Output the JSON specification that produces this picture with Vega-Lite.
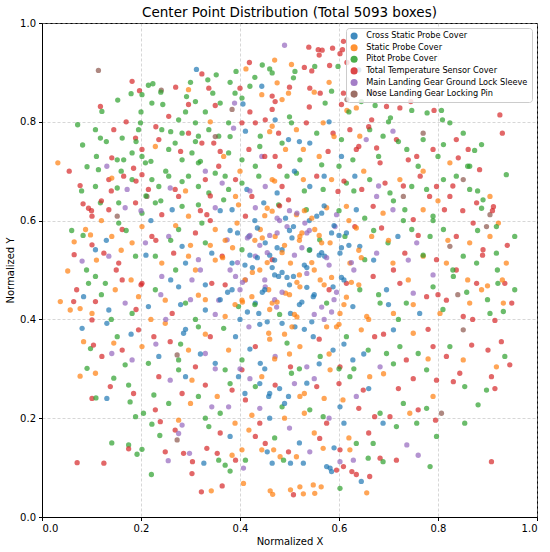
{
  "$schema": "https://vega.github.io/schema/vega-lite/v6.json",
  "width": 495,
  "height": 494,
  "autosize": {"type": "none"},
  "padding": {"left": 42, "top": 23, "right": 13, "bottom": 35},
  "title": {"text": "Center Point Distribution (Total 5093 boxes)", "font": "DejaVu Sans", "fontSize": 13.5, "fontWeight": "normal", "color": "black", "anchor": "middle", "offset": -1},
  "config": {"view": {"stroke": "black", "strokeWidth": 1}, "font": "DejaVu Sans"},
  "data": {"values": [
    {"x":0.114,"y":0.904,"c":"n"},{"x":0.312,"y":0.906,"c":"b"},{"x":0.392,"y":0.902,"c":"g"},{"x":0.419,"y":0.920,"c":"r"},{"x":0.412,"y":0.907,"c":"o"},{"x":0.460,"y":0.907,"c":"g"},{"x":0.490,"y":0.955,"c":"p"},{"x":0.504,"y":0.916,"c":"o"},{"x":0.511,"y":0.902,"c":"g"},{"x":0.539,"y":0.951,"c":"r"},{"x":0.558,"y":0.946,"c":"r"},{"x":0.566,"y":0.945,"c":"r"},{"x":0.587,"y":0.949,"c":"r"},{"x":0.607,"y":0.946,"c":"r"},{"x":0.602,"y":0.938,"c":"r"},{"x":0.560,"y":0.935,"c":"r"},{"x":0.551,"y":0.912,"c":"g"},{"x":0.581,"y":0.914,"c":"r"},{"x":0.598,"y":0.912,"c":"g"},{"x":0.609,"y":0.963,"c":"r"},{"x":0.616,"y":0.920,"c":"r"},{"x":0.545,"y":0.903,"c":"r"},{"x":0.640,"y":0.905,"c":"b"},{"x":0.470,"y":0.925,"c":"o"},{"x":0.445,"y":0.915,"c":"g"},
    {"x":0.118,"y":0.831,"c":"r"},{"x":0.121,"y":0.821,"c":"g"},{"x":0.182,"y":0.882,"c":"r"},{"x":0.180,"y":0.857,"c":"g"},{"x":0.197,"y":0.863,"c":"r"},{"x":0.215,"y":0.874,"c":"g"},{"x":0.224,"y":0.877,"c":"g"},{"x":0.241,"y":0.864,"c":"n"},{"x":0.153,"y":0.844,"c":"g"},{"x":0.323,"y":0.897,"c":"r"},{"x":0.352,"y":0.895,"c":"g"},{"x":0.475,"y":0.879,"c":"o"},{"x":0.202,"y":0.855,"c":"g"},{"x":0.244,"y":0.835,"c":"g"},{"x":0.222,"y":0.838,"c":"g"},{"x":0.292,"y":0.851,"c":"g"},{"x":0.296,"y":0.865,"c":"o"},{"x":0.296,"y":0.835,"c":"r"},{"x":0.310,"y":0.841,"c":"g"},{"x":0.337,"y":0.868,"c":"r"},{"x":0.335,"y":0.885,"c":"g"},{"x":0.345,"y":0.858,"c":"g"},{"x":0.350,"y":0.833,"c":"r"},{"x":0.360,"y":0.838,"c":"g"},{"x":0.390,"y":0.858,"c":"g"},{"x":0.400,"y":0.868,"c":"r"},{"x":0.389,"y":0.838,"c":"p"},{"x":0.404,"y":0.848,"c":"g"},{"x":0.444,"y":0.855,"c":"o"},{"x":0.444,"y":0.872,"c":"b"},{"x":0.465,"y":0.852,"c":"r"},{"x":0.471,"y":0.841,"c":"r"},{"x":0.406,"y":0.836,"c":"b"},{"x":0.420,"y":0.872,"c":"g"},{"x":0.465,"y":0.899,"c":"g"},{"x":0.465,"y":0.825,"c":"r"},{"x":0.485,"y":0.845,"c":"o"},{"x":0.498,"y":0.858,"c":"o"},{"x":0.508,"y":0.889,"c":"g"},{"x":0.541,"y":0.868,"c":"r"},{"x":0.572,"y":0.838,"c":"g"},{"x":0.562,"y":0.858,"c":"r"},{"x":0.585,"y":0.862,"c":"g"},{"x":0.609,"y":0.858,"c":"r"},{"x":0.605,"y":0.835,"c":"r"},{"x":0.635,"y":0.828,"c":"o"},{"x":0.645,"y":0.841,"c":"g"},{"x":0.616,"y":0.823,"c":"o"},{"x":0.616,"y":0.845,"c":"n"},{"x":0.673,"y":0.833,"c":"g"},{"x":0.696,"y":0.831,"c":"r"},{"x":0.723,"y":0.828,"c":"r"},{"x":0.704,"y":0.808,"c":"g"},{"x":0.745,"y":0.841,"c":"r"},{"x":0.747,"y":0.823,"c":"g"},{"x":0.792,"y":0.823,"c":"r"},{"x":0.778,"y":0.818,"c":"g"},{"x":0.807,"y":0.823,"c":"g"},{"x":0.809,"y":0.804,"c":"g"},{"x":0.925,"y":0.814,"c":"r"},{"x":0.930,"y":0.777,"c":"r"},{"x":0.824,"y":0.798,"c":"g"},{"x":0.666,"y":0.804,"c":"r"},{"x":0.256,"y":0.811,"c":"r"},
    {"x":0.072,"y":0.794,"c":"g"},{"x":0.108,"y":0.784,"c":"g"},{"x":0.082,"y":0.753,"c":"g"},{"x":0.032,"y":0.717,"c":"o"},{"x":0.055,"y":0.700,"c":"r"},{"x":0.118,"y":0.767,"c":"g"},{"x":0.145,"y":0.784,"c":"r"},{"x":0.162,"y":0.767,"c":"g"},{"x":0.199,"y":0.798,"c":"g"},{"x":0.189,"y":0.767,"c":"r"},{"x":0.195,"y":0.784,"c":"g"},{"x":0.202,"y":0.744,"c":"r"},{"x":0.182,"y":0.737,"c":"g"},{"x":0.236,"y":0.764,"c":"r"},{"x":0.242,"y":0.784,"c":"g"},{"x":0.276,"y":0.804,"c":"g"},{"x":0.283,"y":0.777,"c":"g"},{"x":0.296,"y":0.777,"c":"r"},{"x":0.310,"y":0.798,"c":"g"},{"x":0.316,"y":0.771,"c":"g"},{"x":0.323,"y":0.757,"c":"r"},{"x":0.337,"y":0.784,"c":"g"},{"x":0.347,"y":0.757,"c":"r"},{"x":0.357,"y":0.771,"c":"g"},{"x":0.377,"y":0.798,"c":"g"},{"x":0.384,"y":0.825,"c":"n"},{"x":0.387,"y":0.787,"c":"p"},{"x":0.404,"y":0.798,"c":"r"},{"x":0.411,"y":0.781,"c":"b"},{"x":0.431,"y":0.798,"c":"r"},{"x":0.441,"y":0.771,"c":"g"},{"x":0.451,"y":0.804,"c":"r"},{"x":0.465,"y":0.791,"c":"o"},{"x":0.471,"y":0.804,"c":"b"},{"x":0.478,"y":0.777,"c":"r"},{"x":0.485,"y":0.757,"c":"g"},{"x":0.256,"y":0.744,"c":"g"},{"x":0.269,"y":0.757,"c":"g"},{"x":0.229,"y":0.750,"c":"o"},{"x":0.209,"y":0.717,"c":"g"},{"x":0.152,"y":0.723,"c":"g"},{"x":0.141,"y":0.727,"c":"r"},{"x":0.114,"y":0.703,"c":"g"},{"x":0.131,"y":0.710,"c":"p"},{"x":0.091,"y":0.709,"c":"g"},{"x":0.165,"y":0.723,"c":"g"},{"x":0.185,"y":0.706,"c":"r"},{"x":0.202,"y":0.730,"c":"g"},{"x":0.283,"y":0.723,"c":"g"},{"x":0.303,"y":0.737,"c":"g"},{"x":0.316,"y":0.717,"c":"g"},{"x":0.357,"y":0.710,"c":"r"},{"x":0.377,"y":0.737,"c":"g"},{"x":0.367,"y":0.730,"c":"o"},{"x":0.404,"y":0.723,"c":"g"},{"x":0.418,"y":0.744,"c":"r"},{"x":0.431,"y":0.710,"c":"g"},{"x":0.444,"y":0.730,"c":"p"},{"x":0.471,"y":0.730,"c":"r"},{"x":0.492,"y":0.744,"c":"o"},{"x":0.498,"y":0.764,"c":"b"},
    {"x":0.504,"y":0.798,"c":"g"},{"x":0.514,"y":0.784,"c":"o"},{"x":0.534,"y":0.798,"c":"r"},{"x":0.555,"y":0.777,"c":"g"},{"x":0.541,"y":0.757,"c":"b"},{"x":0.568,"y":0.798,"c":"o"},{"x":0.588,"y":0.777,"c":"r"},{"x":0.605,"y":0.764,"c":"g"},{"x":0.622,"y":0.784,"c":"r"},{"x":0.642,"y":0.771,"c":"o"},{"x":0.662,"y":0.784,"c":"g"},{"x":0.655,"y":0.764,"c":"p"},{"x":0.676,"y":0.747,"c":"r"},{"x":0.689,"y":0.771,"c":"g"},{"x":0.716,"y":0.764,"c":"r"},{"x":0.709,"y":0.781,"c":"p"},{"x":0.737,"y":0.744,"c":"g"},{"x":0.757,"y":0.730,"c":"r"},{"x":0.770,"y":0.764,"c":"g"},{"x":0.790,"y":0.744,"c":"r"},{"x":0.800,"y":0.730,"c":"g"},{"x":0.811,"y":0.754,"c":"g"},{"x":0.837,"y":0.764,"c":"r"},{"x":0.851,"y":0.777,"c":"g"},{"x":0.861,"y":0.744,"c":"r"},{"x":0.884,"y":0.703,"c":"r"},{"x":0.888,"y":0.754,"c":"g"},{"x":0.874,"y":0.742,"c":"g"},{"x":0.841,"y":0.727,"c":"r"},{"x":0.864,"y":0.710,"c":"g"},{"x":0.824,"y":0.717,"c":"o"},{"x":0.770,"y":0.777,"c":"n"},{"x":0.740,"y":0.723,"c":"r"},{"x":0.760,"y":0.710,"c":"g"},{"x":0.578,"y":0.740,"c":"r"},{"x":0.628,"y":0.723,"c":"g"},{"x":0.605,"y":0.730,"c":"b"},{"x":0.635,"y":0.744,"c":"r"},{"x":0.521,"y":0.723,"c":"g"},{"x":0.528,"y":0.744,"c":"o"},{"x":0.565,"y":0.713,"c":"g"},{"x":0.683,"y":0.717,"c":"r"},
    {"x":0.077,"y":0.671,"c":"r"},{"x":0.083,"y":0.634,"c":"r"},{"x":0.094,"y":0.625,"c":"r"},{"x":0.108,"y":0.669,"c":"g"},{"x":0.135,"y":0.683,"c":"r"},{"x":0.152,"y":0.666,"c":"g"},{"x":0.165,"y":0.690,"c":"r"},{"x":0.182,"y":0.683,"c":"g"},{"x":0.202,"y":0.693,"c":"r"},{"x":0.222,"y":0.683,"c":"g"},{"x":0.215,"y":0.663,"c":"r"},{"x":0.236,"y":0.669,"c":"g"},{"x":0.256,"y":0.690,"c":"g"},{"x":0.269,"y":0.663,"c":"r"},{"x":0.283,"y":0.679,"c":"g"},{"x":0.276,"y":0.649,"c":"r"},{"x":0.296,"y":0.690,"c":"g"},{"x":0.259,"y":0.666,"c":"p"},{"x":0.316,"y":0.669,"c":"g"},{"x":0.330,"y":0.683,"c":"r"},{"x":0.337,"y":0.656,"c":"g"},{"x":0.350,"y":0.696,"c":"g"},{"x":0.364,"y":0.676,"c":"p"},{"x":0.377,"y":0.663,"c":"g"},{"x":0.391,"y":0.683,"c":"r"},{"x":0.391,"y":0.649,"c":"o"},{"x":0.404,"y":0.676,"c":"g"},{"x":0.414,"y":0.663,"c":"b"},{"x":0.424,"y":0.649,"c":"r"},{"x":0.438,"y":0.690,"c":"g"},{"x":0.451,"y":0.669,"c":"p"},{"x":0.465,"y":0.683,"c":"o"},{"x":0.475,"y":0.656,"c":"b"},{"x":0.485,"y":0.669,"c":"r"},{"x":0.495,"y":0.690,"c":"g"},{"x":0.101,"y":0.609,"c":"r"},{"x":0.118,"y":0.636,"c":"g"},{"x":0.135,"y":0.622,"c":"r"},{"x":0.155,"y":0.636,"c":"g"},{"x":0.168,"y":0.626,"c":"p"},{"x":0.189,"y":0.636,"c":"r"},{"x":0.202,"y":0.615,"c":"g"},{"x":0.212,"y":0.649,"c":"n"},{"x":0.229,"y":0.636,"c":"g"},{"x":0.242,"y":0.612,"c":"r"},{"x":0.263,"y":0.622,"c":"b"},{"x":0.283,"y":0.629,"c":"g"},{"x":0.296,"y":0.609,"c":"o"},{"x":0.316,"y":0.632,"c":"g"},{"x":0.333,"y":0.612,"c":"r"},{"x":0.350,"y":0.626,"c":"p"},{"x":0.367,"y":0.642,"c":"g"},{"x":0.384,"y":0.622,"c":"b"},{"x":0.397,"y":0.632,"c":"o"},{"x":0.411,"y":0.609,"c":"r"},{"x":0.431,"y":0.626,"c":"p"},{"x":0.448,"y":0.636,"c":"b"},{"x":0.465,"y":0.619,"c":"o"},{"x":0.478,"y":0.632,"c":"g"},{"x":0.492,"y":0.605,"c":"b"},{"x":0.498,"y":0.642,"c":"r"},{"x":0.152,"y":0.609,"c":"n"},{"x":0.172,"y":0.663,"c":"p"},{"x":0.141,"y":0.686,"c":"o"},
    {"x":0.514,"y":0.696,"c":"g"},{"x":0.528,"y":0.683,"c":"o"},{"x":0.541,"y":0.669,"c":"b"},{"x":0.555,"y":0.690,"c":"r"},{"x":0.568,"y":0.663,"c":"g"},{"x":0.585,"y":0.683,"c":"o"},{"x":0.598,"y":0.659,"c":"r"},{"x":0.615,"y":0.676,"c":"g"},{"x":0.632,"y":0.690,"c":"b"},{"x":0.646,"y":0.663,"c":"r"},{"x":0.662,"y":0.683,"c":"g"},{"x":0.676,"y":0.649,"c":"p"},{"x":0.693,"y":0.676,"c":"r"},{"x":0.703,"y":0.656,"c":"g"},{"x":0.723,"y":0.683,"c":"o"},{"x":0.730,"y":0.649,"c":"n"},{"x":0.747,"y":0.669,"c":"g"},{"x":0.764,"y":0.690,"c":"r"},{"x":0.777,"y":0.663,"c":"g"},{"x":0.797,"y":0.669,"c":"r"},{"x":0.811,"y":0.683,"c":"g"},{"x":0.824,"y":0.649,"c":"r"},{"x":0.837,"y":0.690,"c":"g"},{"x":0.851,"y":0.683,"c":"n"},{"x":0.864,"y":0.663,"c":"g"},{"x":0.878,"y":0.636,"c":"r"},{"x":0.891,"y":0.642,"c":"g"},{"x":0.905,"y":0.649,"c":"o"},{"x":0.938,"y":0.693,"c":"g"},{"x":0.912,"y":0.628,"c":"r"},{"x":0.922,"y":0.595,"c":"o"},{"x":0.905,"y":0.612,"c":"n"},{"x":0.888,"y":0.625,"c":"g"},{"x":0.813,"y":0.622,"c":"r"},{"x":0.790,"y":0.609,"c":"g"},{"x":0.770,"y":0.622,"c":"o"},{"x":0.750,"y":0.602,"c":"r"},{"x":0.733,"y":0.622,"c":"g"},{"x":0.709,"y":0.622,"c":"p"},{"x":0.689,"y":0.615,"c":"o"},{"x":0.669,"y":0.629,"c":"r"},{"x":0.652,"y":0.605,"c":"g"},{"x":0.635,"y":0.622,"c":"b"},{"x":0.615,"y":0.629,"c":"o"},{"x":0.595,"y":0.612,"c":"p"},{"x":0.575,"y":0.626,"c":"o"},{"x":0.555,"y":0.609,"c":"b"},{"x":0.534,"y":0.622,"c":"g"},{"x":0.514,"y":0.612,"c":"o"},{"x":0.783,"y":0.649,"c":"r"},
    {"x":0.083,"y":0.570,"c":"g"},{"x":0.065,"y":0.557,"c":"o"},{"x":0.065,"y":0.531,"c":"r"},{"x":0.052,"y":0.498,"c":"o"},{"x":0.088,"y":0.582,"c":"o"},{"x":0.098,"y":0.571,"c":"o"},{"x":0.101,"y":0.551,"c":"r"},{"x":0.081,"y":0.518,"c":"p"},{"x":0.125,"y":0.534,"c":"r"},{"x":0.135,"y":0.528,"c":"p"},{"x":0.141,"y":0.568,"c":"o"},{"x":0.155,"y":0.595,"c":"g"},{"x":0.162,"y":0.582,"c":"r"},{"x":0.182,"y":0.555,"c":"o"},{"x":0.189,"y":0.528,"c":"g"},{"x":0.202,"y":0.588,"c":"o"},{"x":0.209,"y":0.555,"c":"p"},{"x":0.222,"y":0.568,"c":"r"},{"x":0.229,"y":0.528,"c":"g"},{"x":0.242,"y":0.514,"c":"o"},{"x":0.256,"y":0.568,"c":"p"},{"x":0.266,"y":0.534,"c":"r"},{"x":0.276,"y":0.582,"c":"g"},{"x":0.283,"y":0.548,"c":"b"},{"x":0.296,"y":0.528,"c":"o"},{"x":0.310,"y":0.575,"c":"r"},{"x":0.316,"y":0.521,"c":"p"},{"x":0.330,"y":0.555,"c":"g"},{"x":0.343,"y":0.534,"c":"b"},{"x":0.350,"y":0.582,"c":"o"},{"x":0.364,"y":0.528,"c":"r"},{"x":0.374,"y":0.561,"c":"p"},{"x":0.384,"y":0.514,"c":"b"},{"x":0.394,"y":0.595,"c":"o"},{"x":0.404,"y":0.541,"c":"g"},{"x":0.418,"y":0.568,"c":"b"},{"x":0.431,"y":0.528,"c":"p"},{"x":0.441,"y":0.582,"c":"o"},{"x":0.451,"y":0.555,"c":"b"},{"x":0.465,"y":0.521,"c":"r"},{"x":0.471,"y":0.568,"c":"o"},{"x":0.485,"y":0.541,"c":"b"},{"x":0.495,"y":0.588,"c":"p"},{"x":0.502,"y":0.514,"c":"o"},{"x":0.323,"y":0.595,"c":"g"},{"x":0.108,"y":0.541,"c":"b"},{"x":0.290,"y":0.514,"c":"b"},{"x":0.155,"y":0.514,"c":"r"},
    {"x":0.508,"y":0.588,"c":"b"},{"x":0.521,"y":0.568,"c":"o"},{"x":0.531,"y":0.595,"c":"p"},{"x":0.541,"y":0.541,"c":"b"},{"x":0.551,"y":0.582,"c":"o"},{"x":0.561,"y":0.561,"c":"g"},{"x":0.571,"y":0.528,"c":"b"},{"x":0.582,"y":0.555,"c":"o"},{"x":0.592,"y":0.588,"c":"p"},{"x":0.602,"y":0.534,"c":"b"},{"x":0.612,"y":0.568,"c":"g"},{"x":0.622,"y":0.514,"c":"o"},{"x":0.632,"y":0.588,"c":"r"},{"x":0.642,"y":0.548,"c":"b"},{"x":0.652,"y":0.521,"c":"g"},{"x":0.666,"y":0.568,"c":"o"},{"x":0.676,"y":0.534,"c":"p"},{"x":0.686,"y":0.585,"c":"r"},{"x":0.699,"y":0.555,"c":"g"},{"x":0.709,"y":0.514,"c":"o"},{"x":0.719,"y":0.568,"c":"b"},{"x":0.733,"y":0.534,"c":"r"},{"x":0.747,"y":0.582,"c":"g"},{"x":0.757,"y":0.555,"c":"p"},{"x":0.770,"y":0.528,"c":"o"},{"x":0.784,"y":0.568,"c":"g"},{"x":0.797,"y":0.521,"c":"r"},{"x":0.811,"y":0.582,"c":"g"},{"x":0.824,"y":0.548,"c":"n"},{"x":0.837,"y":0.568,"c":"r"},{"x":0.851,"y":0.528,"c":"g"},{"x":0.864,"y":0.555,"c":"o"},{"x":0.878,"y":0.514,"c":"g"},{"x":0.891,"y":0.541,"c":"r"},{"x":0.905,"y":0.568,"c":"o"},{"x":0.918,"y":0.534,"c":"g"},{"x":0.938,"y":0.514,"c":"o"},{"x":0.955,"y":0.568,"c":"g"},{"x":0.898,"y":0.588,"c":"n"},{"x":0.871,"y":0.595,"c":"r"},{"x":0.817,"y":0.514,"c":"o"},{"x":0.918,"y":0.588,"c":"g"},{"x":0.837,"y":0.500,"c":"r"},
    {"x":0.037,"y":0.436,"c":"o"},{"x":0.064,"y":0.436,"c":"r"},{"x":0.057,"y":0.419,"c":"o"},{"x":0.094,"y":0.473,"c":"g"},{"x":0.084,"y":0.446,"c":"b"},{"x":0.108,"y":0.436,"c":"r"},{"x":0.101,"y":0.412,"c":"o"},{"x":0.128,"y":0.473,"c":"g"},{"x":0.135,"y":0.419,"c":"b"},{"x":0.148,"y":0.460,"c":"o"},{"x":0.162,"y":0.480,"c":"r"},{"x":0.168,"y":0.433,"c":"p"},{"x":0.182,"y":0.412,"c":"g"},{"x":0.195,"y":0.446,"c":"o"},{"x":0.202,"y":0.473,"c":"r"},{"x":0.215,"y":0.426,"c":"b"},{"x":0.229,"y":0.460,"c":"g"},{"x":0.242,"y":0.487,"c":"p"},{"x":0.249,"y":0.439,"c":"o"},{"x":0.263,"y":0.412,"c":"r"},{"x":0.276,"y":0.466,"c":"b"},{"x":0.290,"y":0.433,"c":"g"},{"x":0.303,"y":0.480,"c":"p"},{"x":0.316,"y":0.449,"c":"o"},{"x":0.330,"y":0.419,"c":"b"},{"x":0.343,"y":0.473,"c":"r"},{"x":0.357,"y":0.439,"c":"p"},{"x":0.370,"y":0.406,"c":"o"},{"x":0.384,"y":0.460,"c":"b"},{"x":0.397,"y":0.426,"c":"g"},{"x":0.411,"y":0.480,"c":"p"},{"x":0.424,"y":0.446,"c":"o"},{"x":0.438,"y":0.412,"c":"b"},{"x":0.451,"y":0.466,"c":"p"},{"x":0.465,"y":0.433,"c":"o"},{"x":0.478,"y":0.487,"c":"b"},{"x":0.492,"y":0.453,"c":"o"},{"x":0.502,"y":0.412,"c":"b"},{"x":0.077,"y":0.422,"c":"o"},{"x":0.108,"y":0.487,"c":"g"},{"x":0.391,"y":0.487,"c":"p"},{"x":0.404,"y":0.439,"c":"o"},{"x":0.458,"y":0.460,"c":"o"},{"x":0.474,"y":0.425,"c":"p"},{"x":0.431,"y":0.433,"c":"b"},
    {"x":0.508,"y":0.487,"c":"b"},{"x":0.521,"y":0.466,"c":"o"},{"x":0.535,"y":0.493,"c":"p"},{"x":0.548,"y":0.446,"c":"b"},{"x":0.562,"y":0.480,"c":"o"},{"x":0.575,"y":0.433,"c":"g"},{"x":0.588,"y":0.466,"c":"b"},{"x":0.602,"y":0.412,"c":"o"},{"x":0.615,"y":0.473,"c":"r"},{"x":0.628,"y":0.426,"c":"b"},{"x":0.642,"y":0.460,"c":"g"},{"x":0.656,"y":0.406,"c":"o"},{"x":0.669,"y":0.487,"c":"r"},{"x":0.683,"y":0.433,"c":"g"},{"x":0.696,"y":0.460,"c":"b"},{"x":0.710,"y":0.412,"c":"o"},{"x":0.723,"y":0.473,"c":"r"},{"x":0.736,"y":0.433,"c":"g"},{"x":0.750,"y":0.453,"c":"p"},{"x":0.763,"y":0.412,"c":"b"},{"x":0.777,"y":0.446,"c":"r"},{"x":0.790,"y":0.466,"c":"g"},{"x":0.804,"y":0.412,"c":"o"},{"x":0.817,"y":0.439,"c":"r"},{"x":0.831,"y":0.487,"c":"g"},{"x":0.851,"y":0.406,"c":"r"},{"x":0.864,"y":0.433,"c":"o"},{"x":0.858,"y":0.455,"c":"g"},{"x":0.878,"y":0.473,"c":"r"},{"x":0.888,"y":0.460,"c":"o"},{"x":0.905,"y":0.412,"c":"g"},{"x":0.915,"y":0.398,"c":"r"},{"x":0.921,"y":0.473,"c":"g"},{"x":0.935,"y":0.473,"c":"r"},{"x":0.955,"y":0.460,"c":"g"},{"x":0.932,"y":0.433,"c":"o"},{"x":0.949,"y":0.433,"c":"r"},{"x":0.900,"y":0.468,"c":"o"},{"x":0.932,"y":0.416,"c":"g"},{"x":0.851,"y":0.379,"c":"n"},
    {"x":0.081,"y":0.382,"c":"b"},{"x":0.084,"y":0.355,"c":"o"},{"x":0.098,"y":0.341,"c":"g"},{"x":0.104,"y":0.348,"c":"r"},{"x":0.091,"y":0.301,"c":"g"},{"x":0.108,"y":0.291,"c":"o"},{"x":0.121,"y":0.325,"c":"r"},{"x":0.131,"y":0.392,"c":"b"},{"x":0.145,"y":0.352,"c":"o"},{"x":0.152,"y":0.365,"c":"g"},{"x":0.162,"y":0.338,"c":"r"},{"x":0.168,"y":0.308,"c":"g"},{"x":0.182,"y":0.318,"c":"p"},{"x":0.195,"y":0.379,"c":"r"},{"x":0.202,"y":0.345,"c":"o"},{"x":0.215,"y":0.311,"c":"g"},{"x":0.226,"y":0.365,"c":"r"},{"x":0.236,"y":0.325,"c":"b"},{"x":0.249,"y":0.392,"c":"o"},{"x":0.259,"y":0.355,"c":"r"},{"x":0.276,"y":0.318,"c":"g"},{"x":0.286,"y":0.372,"c":"b"},{"x":0.296,"y":0.338,"c":"o"},{"x":0.310,"y":0.304,"c":"r"},{"x":0.316,"y":0.385,"c":"g"},{"x":0.330,"y":0.331,"c":"p"},{"x":0.340,"y":0.365,"c":"r"},{"x":0.350,"y":0.311,"c":"b"},{"x":0.367,"y":0.382,"c":"g"},{"x":0.377,"y":0.338,"c":"o"},{"x":0.391,"y":0.365,"c":"b"},{"x":0.404,"y":0.318,"c":"g"},{"x":0.418,"y":0.385,"c":"p"},{"x":0.431,"y":0.345,"c":"r"},{"x":0.441,"y":0.311,"c":"b"},{"x":0.458,"y":0.372,"c":"o"},{"x":0.471,"y":0.325,"c":"p"},{"x":0.485,"y":0.392,"c":"b"},{"x":0.495,"y":0.352,"c":"g"},{"x":0.502,"y":0.304,"c":"r"},{"x":0.273,"y":0.328,"c":"n"},{"x":0.141,"y":0.331,"c":"p"},{"x":0.101,"y":0.399,"c":"r"},
    {"x":0.511,"y":0.385,"c":"b"},{"x":0.521,"y":0.345,"c":"o"},{"x":0.535,"y":0.304,"c":"p"},{"x":0.548,"y":0.365,"c":"b"},{"x":0.562,"y":0.325,"c":"g"},{"x":0.575,"y":0.385,"c":"o"},{"x":0.588,"y":0.338,"c":"b"},{"x":0.602,"y":0.304,"c":"r"},{"x":0.615,"y":0.365,"c":"g"},{"x":0.628,"y":0.318,"c":"b"},{"x":0.645,"y":0.379,"c":"o"},{"x":0.659,"y":0.338,"c":"g"},{"x":0.672,"y":0.365,"c":"r"},{"x":0.683,"y":0.304,"c":"p"},{"x":0.696,"y":0.331,"c":"g"},{"x":0.710,"y":0.379,"c":"b"},{"x":0.723,"y":0.345,"c":"g"},{"x":0.736,"y":0.318,"c":"r"},{"x":0.750,"y":0.372,"c":"o"},{"x":0.760,"y":0.331,"c":"g"},{"x":0.777,"y":0.298,"c":"g"},{"x":0.790,"y":0.345,"c":"r"},{"x":0.824,"y":0.345,"c":"g"},{"x":0.817,"y":0.325,"c":"r"},{"x":0.851,"y":0.318,"c":"o"},{"x":0.868,"y":0.348,"c":"r"},{"x":0.901,"y":0.338,"c":"r"},{"x":0.935,"y":0.325,"c":"g"},{"x":0.945,"y":0.308,"c":"r"},{"x":0.918,"y":0.304,"c":"o"},{"x":0.928,"y":0.355,"c":"r"},
    {"x":0.077,"y":0.285,"c":"o"},{"x":0.145,"y":0.281,"c":"g"},{"x":0.138,"y":0.264,"c":"r"},{"x":0.175,"y":0.267,"c":"g"},{"x":0.185,"y":0.250,"c":"r"},{"x":0.226,"y":0.247,"c":"g"},{"x":0.131,"y":0.240,"c":"b"},{"x":0.101,"y":0.240,"c":"r"},{"x":0.109,"y":0.241,"c":"g"},{"x":0.178,"y":0.233,"c":"g"},{"x":0.236,"y":0.284,"c":"r"},{"x":0.259,"y":0.277,"c":"p"},{"x":0.276,"y":0.298,"c":"g"},{"x":0.290,"y":0.284,"c":"b"},{"x":0.283,"y":0.250,"c":"r"},{"x":0.303,"y":0.277,"c":"o"},{"x":0.316,"y":0.244,"c":"g"},{"x":0.330,"y":0.267,"c":"r"},{"x":0.343,"y":0.223,"c":"p"},{"x":0.354,"y":0.244,"c":"o"},{"x":0.370,"y":0.298,"c":"g"},{"x":0.384,"y":0.257,"c":"r"},{"x":0.397,"y":0.284,"c":"b"},{"x":0.377,"y":0.223,"c":"p"},{"x":0.411,"y":0.237,"c":"r"},{"x":0.431,"y":0.264,"c":"g"},{"x":0.444,"y":0.284,"c":"o"},{"x":0.458,"y":0.244,"c":"b"},{"x":0.471,"y":0.267,"c":"r"},{"x":0.485,"y":0.223,"c":"g"},{"x":0.498,"y":0.244,"c":"b"},{"x":0.424,"y":0.206,"c":"o"},{"x":0.404,"y":0.298,"c":"r"},{"x":0.256,"y":0.230,"c":"g"},{"x":0.229,"y":0.217,"c":"r"},{"x":0.276,"y":0.196,"c":"o"},{"x":0.283,"y":0.186,"c":"p"},{"x":0.269,"y":0.176,"c":"r"},{"x":0.276,"y":0.169,"c":"p"},{"x":0.189,"y":0.203,"c":"g"},{"x":0.205,"y":0.210,"c":"g"},
    {"x":0.504,"y":0.291,"c":"g"},{"x":0.521,"y":0.244,"c":"o"},{"x":0.535,"y":0.271,"c":"b"},{"x":0.541,"y":0.217,"c":"g"},{"x":0.555,"y":0.264,"c":"r"},{"x":0.568,"y":0.203,"c":"g"},{"x":0.582,"y":0.298,"c":"o"},{"x":0.575,"y":0.190,"c":"r"},{"x":0.602,"y":0.223,"c":"b"},{"x":0.608,"y":0.237,"c":"o"},{"x":0.622,"y":0.284,"c":"g"},{"x":0.635,"y":0.244,"c":"p"},{"x":0.649,"y":0.257,"c":"r"},{"x":0.662,"y":0.284,"c":"o"},{"x":0.672,"y":0.203,"c":"r"},{"x":0.683,"y":0.210,"c":"g"},{"x":0.703,"y":0.203,"c":"r"},{"x":0.689,"y":0.190,"c":"b"},{"x":0.716,"y":0.183,"c":"g"},{"x":0.743,"y":0.210,"c":"o"},{"x":0.760,"y":0.217,"c":"r"},{"x":0.757,"y":0.190,"c":"g"},{"x":0.730,"y":0.230,"c":"g"},{"x":0.777,"y":0.220,"c":"g"},{"x":0.790,"y":0.244,"c":"o"},{"x":0.807,"y":0.210,"c":"n"},{"x":0.795,"y":0.196,"c":"r"},{"x":0.854,"y":0.190,"c":"g"},{"x":0.797,"y":0.277,"c":"r"},{"x":0.831,"y":0.274,"c":"r"},{"x":0.854,"y":0.264,"c":"g"},{"x":0.844,"y":0.291,"c":"r"},{"x":0.881,"y":0.227,"c":"g"},{"x":0.908,"y":0.284,"c":"r"},{"x":0.915,"y":0.260,"c":"r"},{"x":0.898,"y":0.257,"c":"g"},
    {"x":0.141,"y":0.150,"c":"g"},{"x":0.175,"y":0.146,"c":"g"},{"x":0.175,"y":0.138,"c":"r"},{"x":0.192,"y":0.127,"c":"g"},{"x":0.202,"y":0.137,"c":"g"},{"x":0.222,"y":0.188,"c":"g"},{"x":0.239,"y":0.193,"c":"r"},{"x":0.238,"y":0.165,"c":"g"},{"x":0.249,"y":0.132,"c":"r"},{"x":0.255,"y":0.114,"c":"p"},{"x":0.071,"y":0.110,"c":"r"},{"x":0.125,"y":0.109,"c":"r"},{"x":0.221,"y":0.086,"c":"g"},{"x":0.273,"y":0.156,"c":"n"},{"x":0.286,"y":0.129,"c":"r"},{"x":0.298,"y":0.129,"c":"p"},{"x":0.304,"y":0.112,"c":"r"},{"x":0.303,"y":0.088,"c":"r"},{"x":0.327,"y":0.109,"c":"b"},{"x":0.337,"y":0.183,"c":"g"},{"x":0.333,"y":0.139,"c":"r"},{"x":0.354,"y":0.129,"c":"r"},{"x":0.357,"y":0.115,"c":"g"},{"x":0.370,"y":0.105,"c":"g"},{"x":0.384,"y":0.125,"c":"o"},{"x":0.391,"y":0.115,"c":"r"},{"x":0.380,"y":0.163,"c":"b"},{"x":0.404,"y":0.136,"c":"o"},{"x":0.407,"y":0.099,"c":"p"},{"x":0.411,"y":0.115,"c":"g"},{"x":0.380,"y":0.093,"c":"g"},{"x":0.418,"y":0.176,"c":"o"},{"x":0.431,"y":0.163,"c":"r"},{"x":0.444,"y":0.136,"c":"o"},{"x":0.455,"y":0.132,"c":"b"},{"x":0.451,"y":0.149,"c":"r"},{"x":0.468,"y":0.136,"c":"o"},{"x":0.465,"y":0.109,"c":"b"},{"x":0.481,"y":0.122,"c":"o"},{"x":0.498,"y":0.132,"c":"r"},{"x":0.488,"y":0.115,"c":"g"},{"x":0.502,"y":0.109,"c":"b"},
    {"x":0.575,"y":0.102,"c":"b"},{"x":0.582,"y":0.099,"c":"b"},{"x":0.585,"y":0.092,"c":"b"},{"x":0.595,"y":0.095,"c":"r"},{"x":0.609,"y":0.102,"c":"r"},{"x":0.602,"y":0.112,"c":"p"},{"x":0.602,"y":0.058,"c":"g"},{"x":0.626,"y":0.092,"c":"r"},{"x":0.635,"y":0.086,"c":"r"},{"x":0.645,"y":0.072,"c":"b"},{"x":0.662,"y":0.082,"c":"r"},{"x":0.683,"y":0.119,"c":"r"},{"x":0.689,"y":0.112,"c":"g"},{"x":0.716,"y":0.115,"c":"r"},{"x":0.760,"y":0.125,"c":"p"},{"x":0.784,"y":0.102,"c":"g"},{"x":0.908,"y":0.112,"c":"r"},{"x":0.737,"y":0.146,"c":"p"},{"x":0.635,"y":0.149,"c":"g"},{"x":0.622,"y":0.136,"c":"o"},{"x":0.629,"y":0.115,"c":"p"},{"x":0.659,"y":0.119,"c":"g"},{"x":0.561,"y":0.159,"c":"r"},{"x":0.568,"y":0.139,"c":"o"},{"x":0.528,"y":0.109,"c":"b"},{"x":0.514,"y":0.122,"c":"o"},{"x":0.541,"y":0.132,"c":"p"},{"x":0.602,"y":0.136,"c":"r"},{"x":0.797,"y":0.163,"c":"g"},{"x":0.669,"y":0.149,"c":"g"},
    {"x":0.407,"y":0.068,"c":"o"},{"x":0.322,"y":0.051,"c":"r"},{"x":0.342,"y":0.053,"c":"o"},{"x":0.364,"y":0.063,"c":"r"},{"x":0.461,"y":0.053,"c":"o"},{"x":0.466,"y":0.046,"c":"o"},{"x":0.502,"y":0.055,"c":"o"},{"x":0.521,"y":0.061,"c":"o"},{"x":0.528,"y":0.047,"c":"o"},{"x":0.548,"y":0.065,"c":"o"},{"x":0.551,"y":0.048,"c":"o"},{"x":0.564,"y":0.061,"c":"o"},{"x":0.656,"y":0.049,"c":"o"},{"x":0.508,"y":0.045,"c":"r"},
    {"x":0.47,"y":0.52,"c":"b"},{"x":0.52,"y":0.49,"c":"o"},{"x":0.44,"y":0.55,"c":"p"},{"x":0.55,"y":0.45,"c":"b"},{"x":0.41,"y":0.48,"c":"o"},{"x":0.58,"y":0.51,"c":"p"},{"x":0.50,"y":0.58,"c":"b"},{"x":0.46,"y":0.42,"c":"o"},{"x":0.62,"y":0.55,"c":"b"},{"x":0.38,"y":0.50,"c":"p"},{"x":0.53,"y":0.62,"c":"o"},{"x":0.43,"y":0.60,"c":"b"},{"x":0.57,"y":0.40,"c":"p"},{"x":0.49,"y":0.37,"c":"o"},{"x":0.36,"y":0.44,"c":"b"},{"x":0.60,"y":0.62,"c":"g"},{"x":0.64,"y":0.47,"c":"o"},{"x":0.45,"y":0.46,"c":"b"},{"x":0.51,"y":0.53,"c":"p"},{"x":0.56,"y":0.57,"c":"o"},{"x":0.40,"y":0.40,"c":"b"},{"x":0.48,"y":0.63,"c":"r"},{"x":0.61,"y":0.43,"c":"o"},{"x":0.53,"y":0.38,"c":"b"},{"x":0.42,"y":0.57,"c":"p"},{"x":0.37,"y":0.56,"c":"o"},{"x":0.59,"y":0.59,"c":"b"},{"x":0.47,"y":0.44,"c":"p"},{"x":0.54,"y":0.54,"c":"g"},{"x":0.44,"y":0.50,"c":"o"},{"x":0.50,"y":0.47,"c":"b"},{"x":0.63,"y":0.50,"c":"p"},{"x":0.39,"y":0.43,"c":"o"},{"x":0.57,"y":0.63,"c":"b"},{"x":0.48,"y":0.60,"c":"p"},{"x":0.60,"y":0.39,"c":"o"},{"x":0.42,"y":0.53,"c":"b"},{"x":0.55,"y":0.50,"c":"o"},{"x":0.46,"y":0.57,"c":"p"},{"x":0.52,"y":0.43,"c":"b"},{"x":0.35,"y":0.52,"c":"o"},{"x":0.61,"y":0.48,"c":"b"},{"x":0.54,"y":0.58,"c":"p"},{"x":0.49,"y":0.55,"c":"o"},{"x":0.44,"y":0.39,"c":"b"},{"x":0.58,"y":0.46,"c":"r"},{"x":0.51,"y":0.41,"c":"o"},{"x":0.47,"y":0.49,"c":"b"},{"x":0.40,"y":0.46,"c":"p"},{"x":0.62,"y":0.60,"c":"o"},{"x":0.56,"y":0.53,"c":"b"},{"x":0.43,"y":0.43,"c":"g"},{"x":0.52,"y":0.56,"c":"o"},{"x":0.38,"y":0.58,"c":"b"},{"x":0.59,"y":0.44,"c":"p"},{"x":0.45,"y":0.61,"c":"o"},{"x":0.53,"y":0.51,"c":"b"},{"x":0.50,"y":0.62,"c":"p"},{"x":0.57,"y":0.47,"c":"o"},{"x":0.41,"y":0.51,"c":"b"},{"x":0.48,"y":0.41,"c":"g"},{"x":0.64,"y":0.54,"c":"o"},{"x":0.46,"y":0.53,"c":"b"},{"x":0.55,"y":0.41,"c":"p"},{"x":0.43,"y":0.56,"c":"o"},{"x":0.60,"y":0.57,"c":"b"},{"x":0.37,"y":0.47,"c":"r"},{"x":0.50,"y":0.45,"c":"o"},{"x":0.54,"y":0.60,"c":"b"},{"x":0.45,"y":0.48,"c":"p"},
    {"x":0.33,"y":0.47,"c":"b"},{"x":0.31,"y":0.50,"c":"o"},{"x":0.35,"y":0.41,"c":"p"},{"x":0.28,"y":0.43,"c":"b"},{"x":0.34,"y":0.55,"c":"o"},{"x":0.30,"y":0.44,"c":"p"},{"x":0.45,"y":0.30,"c":"b"},{"x":0.50,"y":0.33,"c":"o"},{"x":0.55,"y":0.28,"c":"p"},{"x":0.48,"y":0.26,"c":"b"},{"x":0.58,"y":0.33,"c":"o"},{"x":0.52,"y":0.30,"c":"g"},{"x":0.42,"y":0.34,"c":"b"},{"x":0.56,"y":0.36,"c":"r"},{"x":0.46,"y":0.36,"c":"o"},{"x":0.61,"y":0.35,"c":"b"},{"x":0.40,"y":0.30,"c":"p"},{"x":0.53,"y":0.25,"c":"o"},{"x":0.44,"y":0.27,"c":"b"},{"x":0.60,"y":0.30,"c":"g"},
    {"x":0.465,"y":0.505,"c":"b"},{"x":0.515,"y":0.475,"c":"o"},{"x":0.455,"y":0.535,"c":"p"},{"x":0.535,"y":0.465,"c":"b"},{"x":0.425,"y":0.495,"c":"o"},{"x":0.575,"y":0.525,"c":"p"},{"x":0.505,"y":0.565,"c":"b"},{"x":0.475,"y":0.435,"c":"o"},{"x":0.605,"y":0.545,"c":"b"},{"x":0.395,"y":0.515,"c":"p"},{"x":0.545,"y":0.605,"c":"o"},{"x":0.435,"y":0.585,"c":"b"},{"x":0.585,"y":0.415,"c":"p"},{"x":0.505,"y":0.385,"c":"o"},{"x":0.375,"y":0.455,"c":"b"},{"x":0.625,"y":0.475,"c":"o"},{"x":0.445,"y":0.455,"c":"b"},{"x":0.525,"y":0.545,"c":"p"},{"x":0.565,"y":0.555,"c":"o"},{"x":0.415,"y":0.415,"c":"b"},{"x":0.615,"y":0.445,"c":"o"},{"x":0.545,"y":0.395,"c":"b"},{"x":0.415,"y":0.565,"c":"p"},{"x":0.385,"y":0.545,"c":"o"},{"x":0.585,"y":0.575,"c":"b"},{"x":0.485,"y":0.455,"c":"p"},{"x":0.455,"y":0.515,"c":"o"},{"x":0.495,"y":0.485,"c":"b"},{"x":0.625,"y":0.515,"c":"p"},{"x":0.405,"y":0.435,"c":"o"},{"x":0.565,"y":0.615,"c":"b"},{"x":0.475,"y":0.605,"c":"p"},{"x":0.595,"y":0.385,"c":"o"},{"x":0.435,"y":0.525,"c":"b"},{"x":0.545,"y":0.515,"c":"o"},{"x":0.475,"y":0.575,"c":"p"},{"x":0.525,"y":0.435,"c":"b"},{"x":0.365,"y":0.525,"c":"o"},{"x":0.605,"y":0.485,"c":"b"},{"x":0.535,"y":0.575,"c":"p"},{"x":0.485,"y":0.535,"c":"o"},{"x":0.455,"y":0.395,"c":"b"},{"x":0.515,"y":0.405,"c":"o"},{"x":0.485,"y":0.495,"c":"b"},{"x":0.405,"y":0.475,"c":"p"},{"x":0.635,"y":0.585,"c":"o"},{"x":0.565,"y":0.535,"c":"b"},{"x":0.525,"y":0.575,"c":"o"},{"x":0.395,"y":0.575,"c":"b"},{"x":0.595,"y":0.455,"c":"p"},{"x":0.455,"y":0.625,"c":"o"},{"x":0.535,"y":0.505,"c":"b"},{"x":0.515,"y":0.615,"c":"p"},{"x":0.585,"y":0.485,"c":"o"},{"x":0.425,"y":0.505,"c":"b"},{"x":0.645,"y":0.525,"c":"o"},{"x":0.475,"y":0.545,"c":"b"},{"x":0.565,"y":0.425,"c":"p"},{"x":0.445,"y":0.565,"c":"o"},{"x":0.615,"y":0.575,"c":"b"},
    {"x":0.32,"y":0.72,"c":"g"},{"x":0.36,"y":0.74,"c":"r"},{"x":0.40,"y":0.70,"c":"o"},{"x":0.44,"y":0.75,"c":"g"},{"x":0.48,"y":0.71,"c":"r"},{"x":0.52,"y":0.76,"c":"b"},{"x":0.56,"y":0.73,"c":"o"},{"x":0.60,"y":0.71,"c":"g"},{"x":0.64,"y":0.75,"c":"r"},{"x":0.68,"y":0.73,"c":"g"},{"x":0.34,"y":0.80,"c":"o"},{"x":0.38,"y":0.77,"c":"g"},{"x":0.42,"y":0.82,"c":"r"},{"x":0.46,"y":0.78,"c":"o"},{"x":0.50,"y":0.81,"c":"g"},{"x":0.54,"y":0.83,"c":"r"},{"x":0.58,"y":0.80,"c":"b"},{"x":0.62,"y":0.82,"c":"g"},{"x":0.66,"y":0.79,"c":"r"},{"x":0.70,"y":0.80,"c":"g"},{"x":0.55,"y":0.86,"c":"o"},{"x":0.50,"y":0.87,"c":"r"},{"x":0.43,"y":0.89,"c":"g"},{"x":0.58,"y":0.88,"c":"o"},{"x":0.53,"y":0.91,"c":"r"},{"x":0.38,"y":0.88,"c":"g"},{"x":0.67,"y":0.86,"c":"r"},{"x":0.72,"y":0.76,"c":"g"},{"x":0.47,"y":0.68,"c":"o"},{"x":0.57,"y":0.69,"c":"b"},{"x":0.42,"y":0.66,"c":"p"},{"x":0.37,"y":0.69,"c":"g"},{"x":0.61,"y":0.68,"c":"r"},{"x":0.65,"y":0.70,"c":"o"},{"x":0.53,"y":0.66,"c":"g"},{"x":0.45,"y":0.73,"c":"r"},{"x":0.59,"y":0.77,"c":"o"},{"x":0.63,"y":0.66,"c":"g"},{"x":0.51,"y":0.70,"c":"b"},{"x":0.68,"y":0.67,"c":"p"},
    {"x":0.12,"y":0.45,"c":"g"},{"x":0.15,"y":0.50,"c":"r"},{"x":0.18,"y":0.48,"c":"o"},{"x":0.21,"y":0.53,"c":"b"},{"x":0.24,"y":0.45,"c":"p"},{"x":0.27,"y":0.50,"c":"g"},{"x":0.30,"y":0.55,"c":"o"},{"x":0.32,"y":0.62,"c":"r"},{"x":0.22,"y":0.60,"c":"b"},{"x":0.17,"y":0.58,"c":"g"},{"x":0.12,"y":0.60,"c":"o"},{"x":0.19,"y":0.42,"c":"r"},{"x":0.25,"y":0.40,"c":"p"},{"x":0.29,"y":0.38,"c":"b"},{"x":0.33,"y":0.44,"c":"o"},{"x":0.14,"y":0.40,"c":"g"},{"x":0.23,"y":0.56,"c":"r"},{"x":0.27,"y":0.59,"c":"o"},{"x":0.20,"y":0.62,"c":"p"},{"x":0.31,"y":0.40,"c":"g"},{"x":0.26,"y":0.48,"c":"b"},{"x":0.34,"y":0.60,"c":"r"},{"x":0.16,"y":0.54,"c":"o"},{"x":0.09,"y":0.50,"c":"g"},{"x":0.07,"y":0.46,"c":"r"},{"x":0.11,"y":0.52,"c":"o"},{"x":0.18,"y":0.37,"c":"b"},{"x":0.23,"y":0.35,"c":"p"},{"x":0.28,"y":0.35,"c":"g"},{"x":0.33,"y":0.37,"c":"o"},{"x":0.20,"y":0.47,"c":"r"},{"x":0.13,"y":0.56,"c":"b"},{"x":0.24,"y":0.64,"c":"g"},{"x":0.29,"y":0.66,"c":"o"},{"x":0.10,"y":0.62,"c":"r"},{"x":0.06,"y":0.58,"c":"g"},{"x":0.32,"y":0.50,"c":"p"},{"x":0.36,"y":0.62,"c":"b"},{"x":0.22,"y":0.40,"c":"o"},{"x":0.26,"y":0.56,"c":"g"},
    {"x":0.68,"y":0.45,"c":"g"},{"x":0.71,"y":0.50,"c":"r"},{"x":0.74,"y":0.48,"c":"o"},{"x":0.77,"y":0.53,"c":"g"},{"x":0.80,"y":0.45,"c":"r"},{"x":0.83,"y":0.50,"c":"g"},{"x":0.86,"y":0.48,"c":"o"},{"x":0.89,"y":0.53,"c":"r"},{"x":0.92,"y":0.50,"c":"g"},{"x":0.70,"y":0.56,"c":"o"},{"x":0.73,"y":0.60,"c":"g"},{"x":0.76,"y":0.57,"c":"r"},{"x":0.79,"y":0.60,"c":"g"},{"x":0.82,"y":0.56,"c":"o"},{"x":0.85,"y":0.62,"c":"r"},{"x":0.88,"y":0.58,"c":"g"},{"x":0.66,"y":0.40,"c":"o"},{"x":0.69,"y":0.37,"c":"r"},{"x":0.72,"y":0.40,"c":"g"},{"x":0.75,"y":0.43,"c":"o"},{"x":0.78,"y":0.38,"c":"r"},{"x":0.81,"y":0.42,"c":"g"},{"x":0.84,"y":0.45,"c":"n"},{"x":0.87,"y":0.40,"c":"r"},{"x":0.90,"y":0.44,"c":"g"},{"x":0.93,"y":0.48,"c":"o"},{"x":0.94,"y":0.55,"c":"r"},{"x":0.71,"y":0.64,"c":"g"},{"x":0.74,"y":0.52,"c":"p"},{"x":0.67,"y":0.52,"c":"b"},{"x":0.80,"y":0.64,"c":"o"},{"x":0.83,"y":0.67,"c":"r"},{"x":0.86,"y":0.71,"c":"g"},{"x":0.77,"y":0.70,"c":"o"},{"x":0.73,"y":0.67,"c":"r"},{"x":0.88,"y":0.66,"c":"g"},{"x":0.79,"y":0.49,"c":"p"},{"x":0.70,"y":0.43,"c":"b"},{"x":0.67,"y":0.58,"c":"g"},{"x":0.91,"y":0.62,"c":"r"},
    {"x":0.46,"y":0.20,"c":"b"},{"x":0.50,"y":0.18,"c":"p"},{"x":0.53,"y":0.21,"c":"o"},{"x":0.49,"y":0.23,"c":"b"},{"x":0.44,"y":0.19,"c":"r"},{"x":0.47,"y":0.16,"c":"g"},{"x":0.52,"y":0.15,"c":"b"},{"x":0.55,"y":0.17,"c":"o"},{"x":0.58,"y":0.20,"c":"p"},{"x":0.61,"y":0.19,"c":"b"},{"x":0.64,"y":0.22,"c":"r"},{"x":0.39,"y":0.19,"c":"o"},{"x":0.36,"y":0.21,"c":"g"},{"x":0.41,"y":0.25,"c":"b"},{"x":0.44,"y":0.22,"c":"p"},{"x":0.57,"y":0.24,"c":"o"},{"x":0.60,"y":0.27,"c":"r"},{"x":0.63,"y":0.30,"c":"g"},{"x":0.66,"y":0.26,"c":"b"},{"x":0.69,"y":0.29,"c":"o"},{"x":0.72,"y":0.26,"c":"r"},{"x":0.38,"y":0.27,"c":"g"},{"x":0.35,"y":0.30,"c":"p"},{"x":0.32,"y":0.33,"c":"b"},{"x":0.62,"y":0.16,"c":"o"},{"x":0.66,"y":0.17,"c":"r"},{"x":0.59,"y":0.14,"c":"b"},{"x":0.49,"y":0.20,"c":"o"},{"x":0.42,"y":0.28,"c":"p"},{"x":0.56,"y":0.31,"c":"b"},{"x":0.71,"y":0.31,"c":"g"},{"x":0.75,"y":0.28,"c":"r"},{"x":0.78,"y":0.32,"c":"o"},{"x":0.46,"y":0.25,"c":"b"},{"x":0.36,"y":0.17,"c":"r"},{"x":0.33,"y":0.20,"c":"g"},{"x":0.30,"y":0.23,"c":"o"},{"x":0.65,"y":0.33,"c":"b"},{"x":0.51,"y":0.27,"c":"p"},{"x":0.47,"y":0.32,"c":"o"},
    {"x":0.16,"y":0.70,"c":"g"},{"x":0.19,"y":0.68,"c":"r"},{"x":0.22,"y":0.72,"c":"g"},{"x":0.25,"y":0.70,"c":"g"},{"x":0.28,"y":0.74,"c":"r"},{"x":0.31,"y":0.76,"c":"g"},{"x":0.13,"y":0.76,"c":"g"},{"x":0.17,"y":0.80,"c":"r"},{"x":0.20,"y":0.82,"c":"g"},{"x":0.23,"y":0.79,"c":"r"},{"x":0.26,"y":0.78,"c":"g"},{"x":0.29,"y":0.82,"c":"g"},{"x":0.33,"y":0.82,"c":"g"},{"x":0.14,"y":0.66,"c":"r"},{"x":0.11,"y":0.73,"c":"g"},{"x":0.24,"y":0.86,"c":"g"},{"x":0.27,"y":0.87,"c":"r"},{"x":0.30,"y":0.88,"c":"g"},{"x":0.33,"y":0.70,"c":"p"},{"x":0.35,"y":0.77,"c":"n"},{"x":0.08,"y":0.66,"c":"g"},{"x":0.12,"y":0.64,"c":"r"},{"x":0.19,"y":0.76,"c":"g"},{"x":0.21,"y":0.65,"c":"g"},{"x":0.34,"y":0.65,"c":"r"}
  ]},
  "transform": [
    {"lookup": "c", "from": {"data": {"values": [
      {"c": "b", "name": "Cross Static Probe Cover"},
      {"c": "o", "name": "Static Probe Cover"},
      {"c": "g", "name": "Pitot Probe Cover"},
      {"c": "r", "name": "Total Temperature Sensor Cover"},
      {"c": "p", "name": "Main Landing Gear Ground Lock Sleeve"},
      {"c": "n", "name": "Nose Landing Gear Locking Pin"}
    ]}, "key": "c", "fields": ["name"]}}
  ],
  "mark": {"type": "circle", "size": 28, "opacity": 0.7},
  "encoding": {
    "x": {
      "field": "x", "type": "quantitative",
      "scale": {"domain": [0, 1], "nice": false, "zero": false},
      "axis": {"title": "Normalized X", "values": [0, 0.2, 0.4, 0.6, 0.8, 1], "format": ".1f",
        "grid": true, "gridColor": "#b0b0b0", "gridOpacity": 0.5, "gridDash": [3, 2],
        "domainColor": "black", "tickColor": "black", "tickSize": 3.5,
        "labelFont": "DejaVu Sans", "labelFontSize": 10, "labelColor": "black", "labelPadding": 3,
        "titleFont": "DejaVu Sans", "titleFontSize": 10, "titleFontWeight": "normal", "titleColor": "black", "titlePadding": 3}
    },
    "y": {
      "field": "y", "type": "quantitative",
      "scale": {"domain": [0, 1], "nice": false, "zero": false},
      "axis": {"title": "Normalized Y", "values": [0, 0.2, 0.4, 0.6, 0.8, 1], "format": ".1f",
        "grid": true, "gridColor": "#b0b0b0", "gridOpacity": 0.5, "gridDash": [3, 2],
        "domainColor": "black", "tickColor": "black", "tickSize": 3.5,
        "labelFont": "DejaVu Sans", "labelFontSize": 10, "labelColor": "black", "labelPadding": 3,
        "titleFont": "DejaVu Sans", "titleFontSize": 10, "titleFontWeight": "normal", "titleColor": "black", "titlePadding": 4}
    },
    "color": {
      "field": "name", "type": "nominal",
      "scale": {"domain": ["Cross Static Probe Cover", "Static Probe Cover", "Pitot Probe Cover", "Total Temperature Sensor Cover", "Main Landing Gear Ground Lock Sleeve", "Nose Landing Gear Locking Pin"],
        "range": ["#1f77b4", "#ff7f0e", "#2ca02c", "#d62728", "#9467bd", "#8c564b"]},
      "legend": {"title": null, "orient": "top-right", "offset": 5, "padding": 4,
        "fillColor": "rgba(255,255,255,0.8)", "strokeColor": "#cccccc", "cornerRadius": 3,
        "labelFont": "DejaVu Sans", "labelFontSize": 8.2, "labelColor": "black", "labelLimit": 300, "labelOffset": 8,
        "symbolType": "circle", "symbolSize": 50, "symbolOpacity": 0.85, "symbolStrokeWidth": 0, "rowPadding": 2.6}
    }
  }
}
